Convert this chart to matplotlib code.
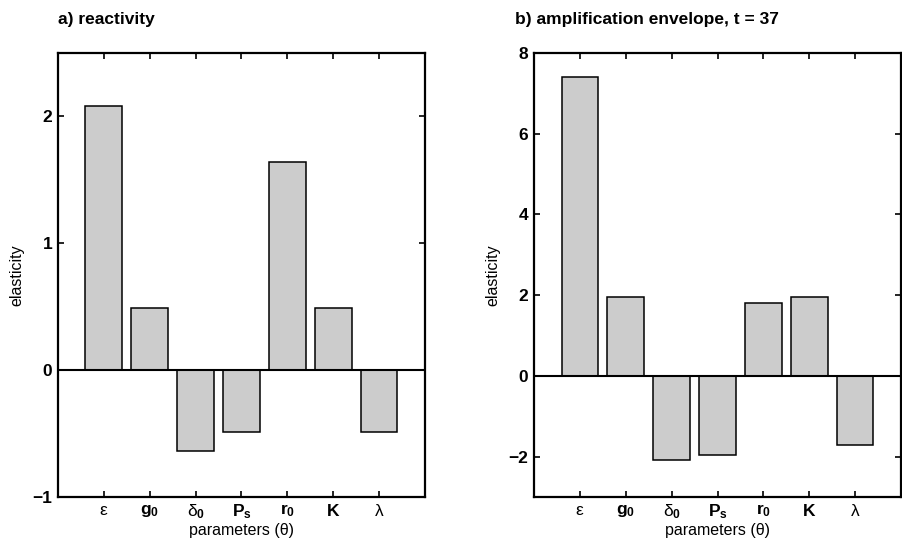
import numpy as np
import matplotlib
matplotlib.use('Agg')
import matplotlib.pyplot as plt

plt.rcParams['font.family'] = 'Liberation Sans'
plt.rcParams['mathtext.fontset'] = 'custom'
plt.rcParams['mathtext.rm'] = 'Liberation Sans'
plt.rcParams['mathtext.it'] = 'Liberation Sans'
plt.rcParams['mathtext.bf'] = 'Liberation Sans:bold'

# parameter names
params = [r'$\varepsilon$', r'$\mathbf{g_0}$', r'$\delta_\mathbf{0}$', r'$\mathbf{P_s}$',
          r'$\mathbf{r_0}$', r'$\mathbf{K}$', r'$\lambda$']

# elasticities
reactivity = [2.08, 0.49, -0.64, -0.49, 1.64, 0.49, -0.485]
amplification = [7.40, 1.96, -2.09, -1.97, 1.81, 1.96, -1.72]

fig = plt.figure(figsize=(9.03, 5.45), dpi=100)
ax1 = fig.add_axes([0.0642, 0.0881, 0.4064, 0.8147])
ax2 = fig.add_axes([0.5914, 0.0881, 0.4064, 0.8147])

def draw(ax, vals, ylim, yticks):
    x = np.arange(1, len(vals) + 1)
    ax.bar(x, vals, width=0.8, color='#cccccc', edgecolor='black', linewidth=1.1, zorder=2)
    ax.axhline(0, color='black', linewidth=1.5, zorder=3)
    ax.set_xlim(0, 8)
    ax.set_ylim(*ylim)
    ax.set_xticks(x)
    ax.set_xticklabels(params, fontsize=12.5)
    ax.set_yticks(yticks)
    ax.set_yticklabels([str(t).replace('-', '\u2212') for t in yticks], fontsize=12.5, fontweight='bold')
    ax.tick_params(direction='in', length=4, width=1.2, top=True, right=True, pad=4)
    for s in ax.spines.values():
        s.set_linewidth(1.6)
    ax.set_xlabel('parameters (\u03b8)', fontsize=11.5, labelpad=1)
    ax.set_ylabel('elasticity', fontsize=11.5, labelpad=6)

draw(ax1, reactivity, (-1, 2.5), [-1, 0, 1, 2])
draw(ax2, amplification, (-3, 8), [-2, 0, 2, 4, 6, 8])

fig.text(58 / 903, 1 - 24 / 545, 'a) reactivity', fontsize=12.5, fontweight='bold', ha='left', va='baseline')
fig.text(515 / 903, 1 - 24 / 545, 'b) amplification envelope, t = 37', fontsize=12.5, fontweight='bold',
         ha='left', va='baseline')

fig.savefig('out.png', dpi=100)
